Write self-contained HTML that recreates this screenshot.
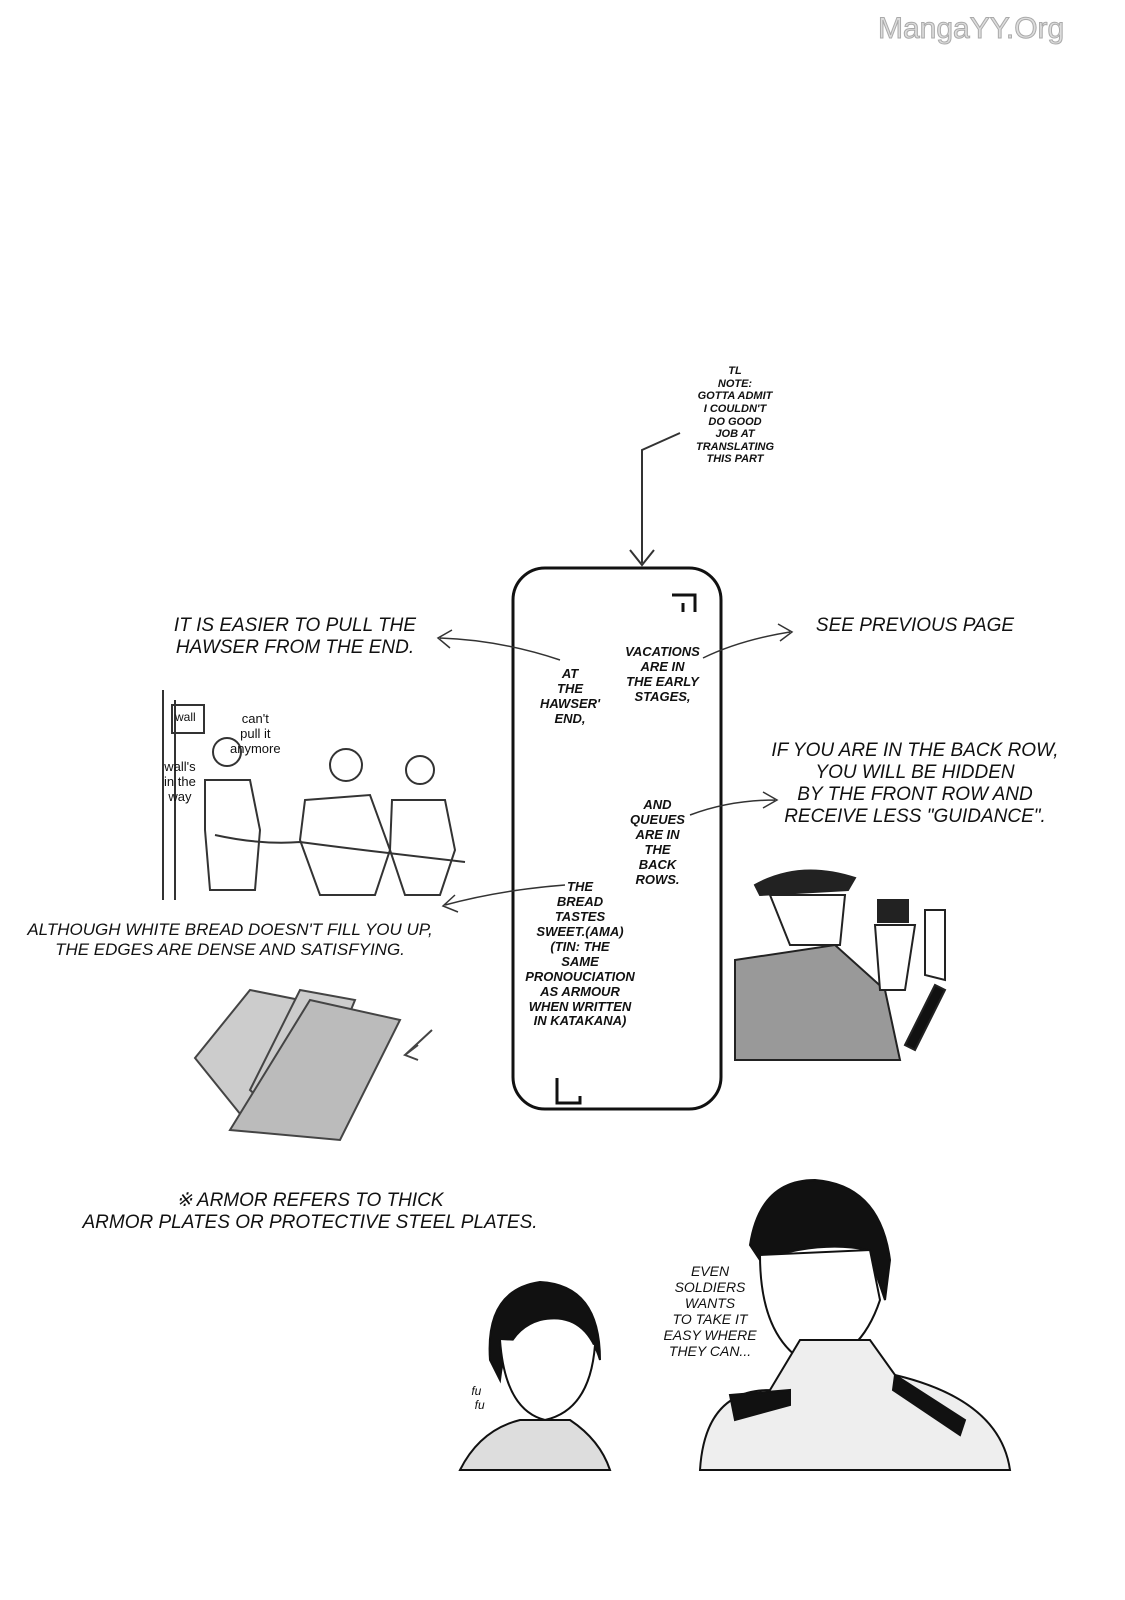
<!DOCTYPE html>
<html><head><meta charset="utf-8"><style>
html,body{margin:0;padding:0;background:#fff;}
body{width:1125px;height:1600px;position:relative;overflow:hidden;font-family:"Liberation Sans",sans-serif;}
.t{position:absolute;font-style:italic;text-transform:uppercase;color:#111;text-align:center;line-height:1.15;}
.s{font-size:13px;font-weight:bold;}
.m{font-size:19px;}
svg{position:absolute;left:0;top:0;}
</style></head><body>
<svg width="1125" height="1600" viewBox="0 0 1125 1600">
<rect x="513" y="568" width="208" height="541" rx="32" fill="none" stroke="#111" stroke-width="3"/>
<path d="M672 595 H695 V612 M683 603 V612" fill="none" stroke="#111" stroke-width="3"/>
<path d="M557 1078 V1103 H580 V1096" fill="none" stroke="#111" stroke-width="3"/>
<path d="M680 433 L642 450 L642 563 M630 550 L642 565 L654 550" fill="none" stroke="#333" stroke-width="2"/>
<path d="M560 660 Q500 640 440 638 M452 630 L438 638 L450 648" fill="none" stroke="#333" stroke-width="1.5"/>
<path d="M703 658 Q740 640 790 632 M778 624 L792 632 L780 641" fill="none" stroke="#333" stroke-width="1.5"/>
<path d="M690 815 Q730 800 775 800 M763 792 L777 800 L763 808" fill="none" stroke="#333" stroke-width="1.5"/>
<path d="M565 885 Q500 890 445 905 M455 895 L443 906 L458 912" fill="none" stroke="#333" stroke-width="1.5"/>
<g fill="none" stroke="#333" stroke-width="2">
<line x1="163" y1="690" x2="163" y2="900"/><line x1="175" y1="700" x2="175" y2="900"/>
<rect x="172" y="705" width="32" height="28"/>
<circle cx="227" cy="752" r="14"/><path d="M205 780 L250 780 L260 830 L255 890 L210 890 L205 830 Z"/>
<circle cx="346" cy="765" r="16"/><path d="M305 800 L370 795 L390 850 L375 895 L320 895 L300 840 Z"/>
<circle cx="420" cy="770" r="14"/><path d="M392 800 L445 800 L455 850 L440 895 L405 895 L390 850 Z"/>
<path d="M215 835 Q260 845 300 842 Q360 850 465 862"/>
</g>
<g stroke="#222" stroke-width="2">
<path d="M755 885 Q800 860 855 878 L848 890 L760 895 Z" fill="#222"/>
<path d="M770 895 L845 895 L840 945 L790 945 Z" fill="#fff"/>
<path d="M735 960 L835 945 L885 990 L900 1060 L735 1060 Z" fill="#999"/>
<rect x="878" y="900" width="30" height="22" fill="#222"/>
<path d="M875 925 L915 925 L905 990 L880 990 Z" fill="#fff"/>
<path d="M925 910 L945 910 L945 980 L925 975 Z" fill="#fff"/>
<path d="M905 1045 L935 985 L945 990 L915 1050 Z" fill="#111"/>
</g>
<g stroke="#444" stroke-width="2" fill="#ccc">
<path d="M195 1058 L250 990 L300 1000 L245 1120 Z"/>
<path d="M250 1090 L300 990 L355 1000 L300 1135 Z"/>
<path d="M230 1130 L310 1000 L400 1020 L340 1140 Z" fill="#bbb"/>
<path d="M405 1055 L432 1030 M418 1045 L405 1055 L418 1060" fill="none"/>
</g>
<g stroke="#111" stroke-width="2">
<path d="M490 1360 Q485 1290 540 1282 Q600 1285 600 1360 Q585 1310 540 1320 Q505 1330 500 1380 Z" fill="#111"/>
<path d="M500 1340 Q505 1410 545 1420 Q590 1410 595 1345" fill="#fff"/>
<path d="M460 1470 Q480 1430 520 1420 L570 1420 Q600 1440 610 1470 Z" fill="#ddd"/>
</g>
<g stroke="#111" stroke-width="2">
<path d="M750 1245 Q760 1180 815 1180 Q880 1185 890 1260 L885 1300 L868 1250 Q820 1240 760 1260 Z" fill="#111"/>
<path d="M760 1255 Q760 1340 810 1365 Q860 1360 880 1300 L870 1250 Z" fill="#fff"/>
<path d="M700 1470 Q705 1390 770 1390 L800 1340 L870 1340 L895 1375 Q1000 1400 1010 1470 Z" fill="#eee"/>
<path d="M730 1395 L790 1390 L790 1405 L735 1420 Z" fill="#111"/>
<path d="M895 1375 L965 1420 L960 1435 L893 1390 Z" fill="#111"/>
</g>
</svg>
<div class="t" style="left:878px;top:12px;font-size:30px;font-style:normal;color:#ddd;text-transform:none;-webkit-text-stroke:1px #aaa;">MangaYY.Org</div>

<div class="t s" style="left:680px;top:365px;width:110px;font-size:11px;">TL<br>note:<br>gotta admit<br>I couldn't<br>do good<br>job at<br>translating<br>this part</div>
<div class="t m" style="left:140px;top:615px;width:310px;">It is easier to pull the<br>hawser from the end.</div>
<div class="t m" style="left:795px;top:615px;width:240px;">See previous page</div>
<div class="t s" style="left:540px;top:667px;width:60px;">At<br>the<br>hawser'<br>end,</div>
<div class="t s" style="left:615px;top:645px;width:95px;">Vacations<br>are in<br>the early<br>stages,</div>
<div class="t m" style="left:755px;top:740px;width:320px;">If you are in the back row,<br>you will be hidden<br>by the front row and<br>receive less "guidance".</div>
<div class="t s" style="left:615px;top:798px;width:85px;">And<br>queues<br>are in<br>the<br>back<br>rows.</div>
<div class="t s" style="left:505px;top:880px;width:150px;">The<br>bread<br>tastes<br>sweet.(ama)<br>(TIN: the<br>same<br>pronouciation<br>as armour<br>when written<br>in katakana)</div>
<div class="t m" style="left:5px;top:920px;width:450px;font-size:17px;">Although white bread doesn't fill you up,<br>the edges are dense and satisfying.</div>
<div class="t m" style="left:50px;top:1190px;width:520px;">※ Armor refers to thick<br>armor plates or protective steel plates.</div>
<div class="t s" style="left:650px;top:1263px;width:120px;font-size:14px;font-weight:normal;">Even<br>soldiers<br>wants<br>to take it<br>easy where<br>they can...</div>
<div class="t" style="left:230px;top:712px;font-size:13px;text-transform:none;font-style:normal;">can't<br>pull it<br>anymore</div>
<div class="t" style="left:164px;top:760px;font-size:13px;text-transform:none;font-style:normal;">wall's<br>in the<br>way</div>
<div class="t" style="left:175px;top:711px;font-size:12px;text-transform:none;font-style:normal;">wall</div>
<div class="t" style="left:468px;top:1385px;font-size:12px;text-transform:none;">fu<br>&nbsp;&nbsp;fu</div>
</body></html>
